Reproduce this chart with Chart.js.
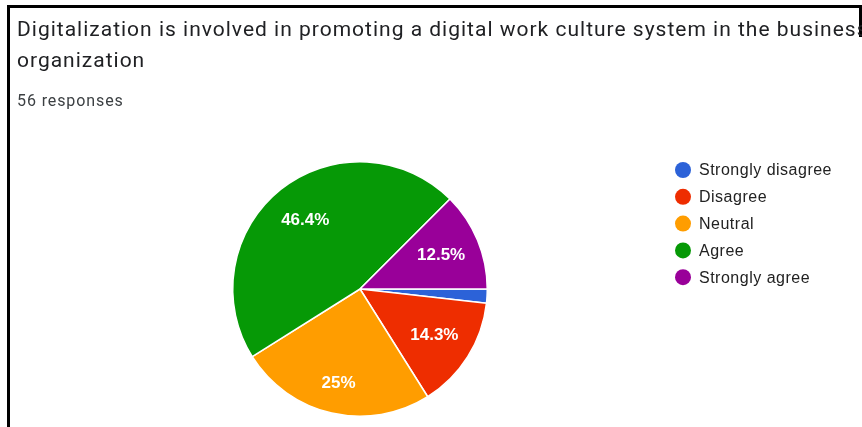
<!DOCTYPE html>
<html>
<head>
<meta charset="utf-8">
<script src="https://cdn.jsdelivr.net/npm/chart.js@4.4.1/dist/chart.umd.min.js"></script>
<style>
  body { margin: 0; background: #fff; width: 862px; height: 427px; overflow: hidden; position: relative; }
  #chart { position: absolute; left: 0; top: 0; }
  .frame { position: absolute; left: 7px; top: 5px; width: 860px; height: 430px; border-left: 3px solid #000; border-top: 3px solid #000; box-sizing: border-box; }
  .frame-right { position: absolute; left: 859px; top: 5px; width: 3px; height: 32px; background: #000; }
  .title { position: absolute; left: 17px; top: 14px; font-family: Roboto, Arial, sans-serif; font-size: 21px; line-height: 31px; letter-spacing: 1px; color: #202124; white-space: nowrap; }
  .sub { position: absolute; left: 17px; top: 93px; font-family: Roboto, Arial, sans-serif; font-size: 16px; line-height: 16px; letter-spacing: 0.9px; color: #3c4043; white-space: nowrap; }
</style>
</head>
<body>
<canvas id="chart" width="862" height="427"></canvas>
<div class="frame"></div>
<div class="frame-right"></div>
<div class="title">Digitalization is involved in promoting a digital work culture system in the business<br>organization</div>
<div class="sub">56 responses</div>
<script>
const answerLabels = ["Strongly disagree", "Disagree", "Neutral", "Agree", "Strongly agree"];
const responseCounts = [1, 8, 14, 26, 7];
const sliceColors = ["#2c62d8", "#ee2d00", "#ff9d00", "#069906", "#990099"];

const totalResponses = responseCounts.reduce((a, b) => a + b, 0);

// percentage text inside each slice, skipped for tiny slices
const sliceLabels = {
  id: "sliceLabels",
  afterDatasetsDraw(chart) {
    const ctx = chart.ctx;
    const meta = chart.getDatasetMeta(0);
    ctx.save();
    ctx.fillStyle = "#fff";
    ctx.font = "bold 17px Arial, 'Liberation Sans', sans-serif";
    ctx.textAlign = "center";
    ctx.textBaseline = "middle";
    meta.data.forEach((arc, i) => {
      const share = responseCounts[i] / totalResponses;
      if (share < 0.05) return;
      const mid = (arc.startAngle + arc.endAngle) / 2;
      // bigger slices push their label a bit further out
      const r = arc.outerRadius * (share >= 0.2 && share < 0.4 ? 0.76 : 0.69);
      const text = Math.round(share * 1000) / 10 + "%";
      ctx.fillText(text, arc.x + Math.cos(mid) * r, arc.y + Math.sin(mid) * r);
    });
    ctx.restore();
  }
};

// dot legend on the right side
const dotLegend = {
  id: "dotLegend",
  afterDraw(chart) {
    const ctx = chart.ctx;
    ctx.save();
    ctx.font = "16px Arial, 'Liberation Sans', sans-serif";
    ctx.letterSpacing = "0.5px";
    ctx.textBaseline = "middle";
    answerLabels.forEach((label, i) => {
      const y = 170 + i * 26.8;
      ctx.fillStyle = sliceColors[i];
      ctx.beginPath();
      ctx.arc(683, y, 8, 0, Math.PI * 2);
      ctx.fill();
      ctx.fillStyle = "#222";
      ctx.fillText(label, 699, y + 1);
    });
    ctx.restore();
  }
};

new Chart(document.getElementById("chart"), {
  type: "pie",
  data: {
    labels: answerLabels,
    datasets: [{
      data: responseCounts,
      backgroundColor: sliceColors,
      borderColor: "#fff",
      borderWidth: 1.5
    }]
  },
  options: {
    responsive: false,
    animation: false,
    rotation: 90,
    layout: { padding: { left: 232, top: 161, right: 374, bottom: 10 } },
    plugins: {
      legend: { display: false },
      tooltip: { enabled: false }
    }
  },
  plugins: [sliceLabels, dotLegend]
});
</script>
</body>
</html>
